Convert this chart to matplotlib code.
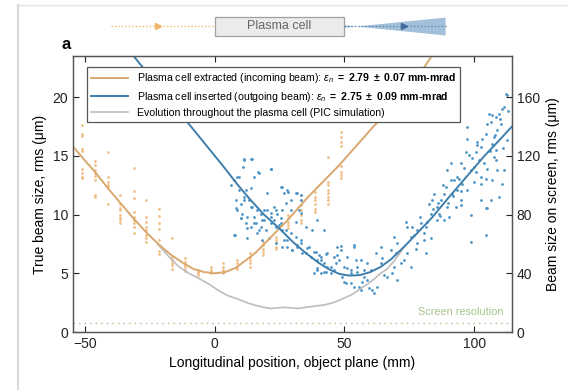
import numpy as np
import matplotlib
matplotlib.use("Agg")
import matplotlib.pyplot as plt
from matplotlib.patches import Rectangle, Polygon
from matplotlib.lines import Line2D

plt.rcParams['font.family'] = ['Liberation Sans', 'DejaVu Sans']
plt.rcParams['mathtext.fontset'] = 'custom'
plt.rcParams['mathtext.rm'] = 'Liberation Sans'
plt.rcParams['mathtext.it'] = 'Liberation Sans:italic'
plt.rcParams['mathtext.bf'] = 'Liberation Sans:bold'

# fitted envelopes (z in mm, size in um)
orange_fit_z = [-54.6, -50, -46, -41, -36, -31, -26, -21.5, -17, -12, -8, -4, 0, 4, 8, 12, 16,
                20, 24, 28, 32, 36, 40, 44, 48, 52, 56, 60, 65, 70, 75, 80, 84]
orange_fit_w = [15.8, 14.6, 13.6, 12.2, 10.9, 9.6, 8.4, 7.45, 6.6, 5.85, 5.35, 5.1, 5.0, 5.1, 5.45,
                6.1, 6.8, 7.7, 8.6, 9.5, 10.5, 11.5, 12.4, 13.3, 14.2, 15.2, 16.2, 17.2, 18.4,
                19.6, 20.9, 22.3, 23.6]

blue_fit_z = [-32, -25, -18, -11, -4, 3, 9, 14, 19, 25, 30, 35, 40, 44, 48, 52, 56, 60, 64, 68,
              73, 78, 84, 90, 97, 104, 110, 114.6]
blue_fit_w = [23.7, 21.8, 19.9, 18.0, 16.1, 14.2, 12.5, 11.2, 10.0, 8.8, 7.7, 6.75, 5.9, 5.35,
              4.95, 4.8, 4.85, 5.1, 5.55, 6.2, 7.25, 8.4, 9.8, 11.4, 13.2, 15.0, 16.4, 17.5]

pic_z = [-22, -18, -14, -10, -6, -2, 1, 5, 9, 13, 17, 21.5, 24, 27, 30, 32, 35, 38.3, 42, 45,
         48, 50, 53, 56.3, 59, 61.4, 64, 66.6, 69, 71, 73]
pic_w = [7.5, 6.5, 5.6, 5.0, 4.55, 4.05, 3.6, 3.1, 2.8, 2.45, 2.2, 2.0, 2.05, 2.1, 2.05, 2.0,
         2.1, 2.2, 2.3, 2.45, 2.7, 2.9, 3.2, 3.7, 4.1, 4.5, 5.0, 5.4, 6.0, 6.6, 7.25]

# incoming beam measurements, grouped by scan position
orange_cols = [-51.2, -46.1, -41.2, -36.3, -31.1, -26.3, -21.3, -16.3, -11.4, -6.3, -1.5,
               3.4, 8.5, 13.6, 18.6, 23.5, 28.4, 33.4, 38.6, 43.7, 48.6]
orange_vals = [
    [17.6, 16.9, 16.7, 15.6, 15.4, 13.9, 13.5, 13.2, 13.1],
    [14.6, 14.2, 13.8, 13.5, 13.3, 12.9, 11.7, 11.5],
    [15.3, 13.2, 12.8, 12.5, 12.4, 10.9],
    [11.65, 10.9, 10.6, 10.4, 9.95, 9.67, 9.52, 9.24],
    [14.0, 12.0, 11.45, 10.2, 9.8, 9.5, 9.24, 8.9, 8.44],
    [11.2, 9.8, 9.38, 8.95, 8.67, 8.25, 7.97, 7.68],
    [10.5, 9.86, 9.3, 8.8, 7.8, 7.4, 6.9, 6.6],
    [8.0, 6.4, 6.1, 5.9, 5.7, 5.4],
    [6.27, 6.0, 5.7, 5.5, 5.3, 5.2],
    [5.27, 5.13, 5.0, 4.85],
    [5.55, 5.27, 5.13, 5.0],
    [5.84, 5.55, 5.27, 5.13, 5.0],
    [6.1, 5.84, 5.55, 5.33],
    [6.7, 6.4, 6.1, 5.84, 5.55],
    [7.68, 7.4, 7.1, 6.83, 6.55],
    [8.1, 7.82, 7.54, 7.25, 7.03],
    [11.9, 9.95, 9.67, 9.38, 9.1, 8.82],
    [11.65, 11.2, 10.8, 10.4, 9.95, 9.52, 9.24],
    [11.9, 11.5, 11.2, 10.9, 10.5, 10.2],
    [14.9, 12.8, 12.5, 12.1, 11.8, 11.5, 11.2, 10.9],
    [18.0, 17.0, 16.6, 16.2, 15.8, 14.1, 13.6, 13.35, 13.1],
]

# outgoing beam measurements
blue_z = [11.3, 14.5, 6.4, 8.5, 9.4, 17.1, 21.6, 20.3, 26.1, 28.3, 8.1, 10.0, 11.3, 13.9, 15.2,
          17.1, 18.4, 19.0, 12.6, 7.8, 12.3, 21.6, 22.9, 24.8, 26.1, 23.5, 25.4, 27.4, 29.3,
          31.9, 31.2, 26.7, 28.0, 29.9, 31.9, 33.2, 33.2, 35.1, 37.6, 39.6, 42.1,
          33.2, 35.1, 36.4, 38.9, 40.2, 42.8, 40.9, 43.4, 38.3, 39.6, 42.1, 44.7, 46.0, 48.6,
          47.3, 47.9, 46.6, 49.2, 49.9, 51.1, 52.4, 53.7, 54.4, 55.0, 55.6, 56.3, 56.9, 57.6,
          58.9, 59.5, 60.1, 60.8, 61.4, 62.1, 62.7, 64.0, 64.6, 65.3, 66.6, 67.9, 68.5, 69.1,
          69.8, 70.4, 71.7, 73.0, 74.3, 75.6, 77.5, 52.4, 53.7, 50.5, 64.0, 70.4,
          112.8, 112.2, 111.5, 110.9, 109.6, 110.3, 108.3, 107.0, 106.4, 105.8, 105.1, 109.0,
          107.7, 107.0, 104.5, 102.5, 101.3, 100.6, 101.9, 100.0, 98.7, 98.0, 96.8, 97.4,
          97.1, 100.6, 102.5, 103.8, 105.1, 108.3, 109.0, 107.0, 104.5, 102.5, 100.0, 94.8,
          93.5, 95.5, 92.3, 91.0, 89.7, 89.1, 88.4, 91.6, 93.5, 94.8, 97.4, 87.1, 85.8, 84.6,
          83.9, 82.6, 83.3, 86.5, 89.7, 92.9, 94.8, 90.3, 88.4, 98.7, 102.5, 104.5, 105.1,
          85.8, 81.3, 80.7, 79.4, 78.1, 76.8, 75.6, 74.3, 73.6, 81.3, 80.7, 83.3, 104.5, 98.7,
          106.4, 109.6, 110.9, 111.5, 108.3, 107.7, 112.8, 69.1,
          11.3, 14.1, 11.0, 16.7, 21.6, 15.2, 7.5, 9.4, 12.0, 13.9, 8.1, 10.0, 11.3, 13.2, 14.5,
          8.7, 10.7, 12.6, 15.2, 16.4, 17.7, 19.0, 20.3, 21.6, 22.9, 24.2, 26.1, 25.4, 26.7,
          28.0, 29.3, 31.2, 33.1, 32.5, 10.0, 12.0, 13.9, 15.8, 17.7, 19.7, 21.6, 23.5, 25.4,
          27.4, 29.3, 31.2, 33.1, 7.5, 16.4, 18.4, 20.9, 23.5, 26.1, 28.0, 30.0, 31.9, 33.8,
          35.7, 37.0, 38.3, 39.6, 40.9, 42.1, 43.4, 44.7, 46.0, 47.3, 48.6, 49.9, 51.1, 52.4,
          53.7, 55.0, 56.3, 57.6, 58.9, 39.6, 40.9, 42.8,
          76, 78, 79, 82, 84, 86, 87, 88, 90, 91, 92, 94, 95, 96, 99, 101, 103, 106, 108, 110,
          111, 113]
blue_w = [14.63, 14.69, 12.50, 13.21, 12.08, 13.55, 13.92, 11.80, 12.36, 11.94, 10.52, 9.67,
          11.23, 10.66, 9.25, 8.68, 9.53, 10.38, 8.82, 8.25, 7.97, 10.10, 9.53, 9.10, 8.68,
          10.38, 9.67, 10.95, 10.38, 11.80, 9.39, 7.83, 7.26, 6.98, 7.40, 11.23, 10.10, 8.96,
          8.68, 9.53, 8.68,
          7.54, 6.69, 7.25, 6.83, 6.55, 6.63, 6.12, 5.55, 4.99, 5.41, 5.13, 4.99, 5.27, 7.31,
          6.55, 6.12, 5.84, 4.70, 4.28, 5.41, 4.99, 7.39, 6.12, 5.13, 3.85, 3.57, 4.28, 4.70,
          4.42, 3.71, 5.27, 3.57, 3.29, 6.69, 3.85, 5.84, 6.26, 4.84, 4.70, 6.97, 4.99, 5.55,
          6.69, 4.42, 5.84, 6.12, 6.69, 5.55, 7.11, 4.14, 3.85, 4.14, 7.25, 7.54,
          20.15, 20.30, 19.16, 19.02, 18.60, 17.75, 18.31, 18.45, 17.89, 18.60, 17.75, 17.18,
          16.61, 16.05, 16.90, 15.76, 16.19, 15.34, 14.63, 14.06, 13.78, 15.05, 15.34, 17.46,
          16.47, 13.64, 13.21, 14.35, 13.92, 14.63, 13.78, 12.93, 13.07, 12.64, 12.79, 14.35,
          13.21, 12.64, 12.93, 14.35, 13.78, 12.36, 11.79, 11.79, 12.08, 11.23, 12.08, 11.23,
          10.66, 11.79, 11.23, 10.94, 10.09, 10.09, 10.66, 10.66, 10.80, 9.81, 9.53, 9.95,
          11.23, 10.52, 10.52, 9.53, 8.96, 8.39, 9.24, 8.68, 8.25, 8.11, 8.96, 9.39, 6.69,
          7.83, 7.97, 8.25, 7.69, 11.23, 11.51, 12.64, 13.78, 15.48, 14.91, 16.33, 8.11,
          14.69, 14.74, 14.06, 13.64, 13.92, 13.21, 12.93, 13.21, 12.08, 12.22, 11.23, 10.94,
          11.51, 11.23, 10.66, 10.38, 10.09, 9.81, 9.81, 10.38, 10.09, 9.53, 10.38, 9.81,
          10.66, 10.09, 10.38, 12.36, 11.80, 12.08, 11.23, 11.80, 11.65, 10.38, 9.67, 9.24,
          8.96, 9.24, 8.96, 8.68, 9.24, 8.96, 9.24, 8.68, 8.39, 8.11, 7.83, 8.25, 8.39, 7.83,
          7.97, 7.54, 7.26, 7.83, 6.98, 7.26, 6.69, 7.12, 6.41, 6.84, 6.13, 6.41, 5.84, 6.69,
          5.56, 6.41, 7.26, 6.98, 5.56, 6.41, 5.28, 7.26, 5.56, 6.13, 5.28, 5.84, 5.28, 4.99,
          5.14,
          8.9, 7.6, 9.8, 9.4, 10.5, 11.0, 9.9, 12.5, 11.0, 12.9, 11.6, 13.0, 12.0, 14.0, 14.8,
          15.9, 16.4, 15.4, 16.8, 18.1, 15.7, 18.8]

screen_res = 0.77

c_or_line = '#D9A86E'
c_or_dot = '#F0BE85'
c_bl_line = '#3E7EAC'
c_bl_dot = '#4C93C6'
c_gray = '#BDBDBD'
c_green = '#A9C48C'

fig = plt.figure(figsize=(5.68, 3.9), dpi=100)
ax = fig.add_axes([0.1285, 0.1487, 0.7729, 0.7077])
xlim = (-54.6, 114.6)

oz = [z for z, vals in zip(orange_cols, orange_vals) for v in vals]
ow = [v for vals in orange_vals for v in vals]
ax.scatter(oz, ow, s=4, color=c_or_dot, lw=0, zorder=2)
ax.scatter(blue_z, blue_w, s=4, color=c_bl_dot, lw=0, zorder=2)
ax.plot(pic_z, pic_w, color=c_gray, lw=1.2, zorder=3,
        label='Evolution throughout the plasma cell (PIC simulation)')
ax.plot(orange_fit_z, orange_fit_w, color=c_or_line, lw=1.4, zorder=4,
        label=r'Plasma cell extracted (incoming beam): $\epsilon_n$ $\mathbf{=\ 2.79\ \pm\ 0.07\ mm‐mrad}$')
ax.plot(blue_fit_z, blue_fit_w, color=c_bl_line, lw=1.4, zorder=4,
        label=r'Plasma cell inserted (outgoing beam): $\epsilon_n$ $\mathbf{=\ 2.75\ \pm\ 0.09\ mm‐mrad}$')
ax.axhline(screen_res, color=c_green, lw=1, ls=(0, (1, 3)), zorder=1)
ax.text(111.5, 1.3, 'Screen resolution', color=c_green, fontsize=7.8, ha='right', va='bottom')

ax.set_xlim(*xlim)
ax.set_ylim(0, 23.5)
ax.set_xticks([-50, 0, 50, 100])
ax.set_yticks([0, 5, 10, 15, 20])
ax.tick_params(direction='in', length=4, width=0.8, labelsize=10, top=True, colors='#222222')
ax.set_xlabel('Longitudinal position, object plane (mm)', fontsize=10)
ax.set_ylabel('True beam size, rms (μm)', fontsize=10)
for s in ax.spines.values():
    s.set_color('#555555')
    s.set_linewidth(1.0)

h, lab = ax.get_legend_handles_labels()
order = [1, 2, 0]
leg = ax.legend([h[i] for i in order], [lab[i] for i in order], loc='upper left',
                bbox_to_anchor=(0.032, 0.96), borderaxespad=0, fontsize=7.6, handlelength=3.5,
                labelspacing=0.42, fancybox=False, framealpha=1, edgecolor='#555555')
leg.get_frame().set_linewidth(0.9)

ax2 = ax.twinx()
ax2.set_ylim(0, 23.5 * 8)
ax2.set_yticks([0, 40, 80, 120, 160])
ax2.tick_params(direction='in', length=4, width=0.8, labelsize=10, colors='#222222')
ax2.set_ylabel('Beam size on screen, rms (μm)', fontsize=10)
for s in ax2.spines.values():
    s.set_color('#555555')

# schematic of the plasma cell above the plot
axd = fig.add_axes([0.1285, 0.885, 0.7729, 0.0897])
axd.set_xlim(*xlim)
axd.set_ylim(0, 1)
axd.axis('off')
axd.plot([-40, 0], [0.53, 0.53], color='#F2B66A', lw=1, ls=(0, (1, 1.5)))
axd.plot([-22], [0.53], marker='>', color='#F2B66A', ms=5)
axd.add_patch(Polygon([[50, 0.49], [89, 0.78], [89, 0.266], [50, 0.56]], closed=True,
                      facecolor='#A3C0DB', edgecolor='none'))
axd.plot([50, 90], [0.53, 0.53], color='#5C86B0', lw=1, ls=(0, (1, 1.5)))
axd.plot([73], [0.53], marker='>', color='#3F6C9A', ms=5)
axd.add_patch(Rectangle((0, 0.257), 50, 0.543, facecolor='#EBEBEB', edgecolor='#A0A0A0', lw=0.9))
axd.text(25, 0.53, 'Plasma cell', ha='center', va='center', fontsize=9, color='#666666')

fig.text(0.109, 0.887, 'a', fontsize=12, fontweight='bold', ha='left', va='center')

# page card edge
fig.add_artist(Line2D([0.032, 1], [0.987, 0.987], color='#E4E4E4', lw=1))
fig.add_artist(Line2D([0.032, 0.032], [0, 0.987], color='#D8D8D8', lw=1.5))

fig.savefig('out.png', dpi=100)
